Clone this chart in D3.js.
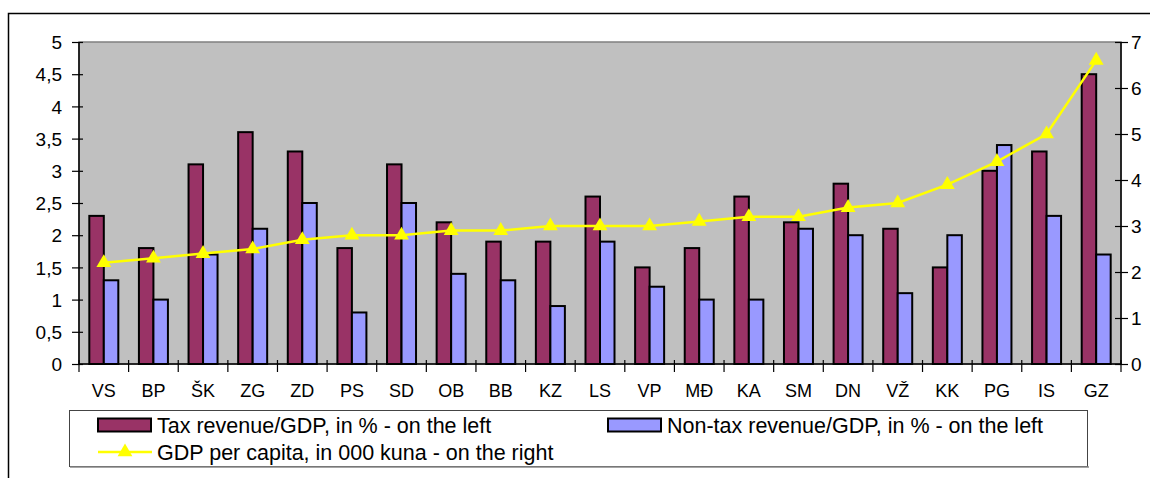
<!DOCTYPE html>
<html>
<head>
<meta charset="utf-8">
<script src="https://cdn.jsdelivr.net/npm/d3@7"></script>
<style>
  body { margin: 0; background: #fff; }
  svg { display: block; font-family: "Liberation Sans", Arial, sans-serif; }
  .axis path { stroke: #000; }
  .axis line { stroke: #000; }
  .axis text { font-size: 18px; fill: #000; }
  .yaxis text { font-size: 19px; }
</style>
</head>
<body>
<div class="holder"></div>
<script>
const w = 1150;
const h = 478;

// data
const categories = ["VS", "BP", "ŠK", "ZG", "ZD", "PS", "SD", "OB", "BB", "KZ", "LS", "VP", "MĐ", "KA", "SM", "DN", "VŽ", "KK", "PG", "IS", "GZ"];
const taxRevenue = [2.3, 1.8, 3.1, 3.6, 3.3, 1.8, 3.1, 2.2, 1.9, 1.9, 2.6, 1.5, 1.8, 2.6, 2.2, 2.8, 2.1, 1.5, 3.0, 3.3, 4.5];
const nonTaxRevenue = [1.3, 1.0, 1.7, 2.1, 2.5, 0.8, 2.5, 1.4, 1.3, 0.9, 1.9, 1.2, 1.0, 1.0, 2.1, 2.0, 1.1, 2.0, 3.4, 2.3, 1.7];
const gdpPerCapita = [2.2, 2.3, 2.4, 2.5, 2.7, 2.8, 2.8, 2.9, 2.9, 3.0, 3.0, 3.0, 3.1, 3.2, 3.2, 3.4, 3.5, 3.9, 4.4, 5.0, 6.6];
const leftTicks = [0, 0.5, 1, 1.5, 2, 2.5, 3, 3.5, 4, 4.5, 5];
const rightTicks = [0, 1, 2, 3, 4, 5, 6, 7];
const seriesNames = ["Tax revenue/GDP, in % - on the left", "Non-tax revenue/GDP, in % - on the left", "GDP per capita, in 000 kuna - on the right"];

const plot = { left: 79, right: 1121, top: 42, bottom: 364 };
const barW = 14.5;
const taxColor = "#993366";
const nonTaxColor = "#9999FF";
const lineColor = "#FFFF00";

const svg = d3.select(".holder")
    .append("svg")
    .attr("width", w)
    .attr("height", h);

// outer chart frame (cropped on right and bottom)
svg.append("rect")
    .attr("x", 8.5).attr("y", 13.5)
    .attr("width", 1300).attr("height", 600)
    .attr("fill", "none")
    .attr("stroke", "#000")
    .attr("stroke-width", 1.5);

// plot area
svg.append("rect")
    .attr("x", plot.left).attr("y", plot.top)
    .attr("width", plot.right - plot.left)
    .attr("height", plot.bottom - plot.top)
    .attr("fill", "#C0C0C0")
    .attr("stroke", "#808080")
    .attr("stroke-width", 1.5);

// scales
const xScale = d3.scaleBand()
    .domain(categories)
    .range([plot.left, plot.right]);

const yLeft = d3.scaleLinear()
    .domain([0, 5])
    .range([plot.bottom, plot.top]);

const yRight = d3.scaleLinear()
    .domain([0, 7])
    .range([plot.bottom, plot.top]);

const center = c => xScale(c) + xScale.bandwidth() / 2;
const fmt = d => String(d).replace(".", ",");

// bars
const rows = categories.map((c, i) => ({ c, tax: taxRevenue[i], nontax: nonTaxRevenue[i], gdp: gdpPerCapita[i] }));

svg.selectAll("rect.tax")
    .data(rows)
    .enter()
    .append("rect")
    .attr("class", "tax")
    .attr("x", d => center(d.c) - barW)
    .attr("y", d => yLeft(d.tax))
    .attr("width", barW)
    .attr("height", d => yLeft(0) - yLeft(d.tax))
    .attr("fill", taxColor)
    .attr("stroke", "#000")
    .attr("stroke-width", 2);

svg.selectAll("rect.nontax")
    .data(rows)
    .enter()
    .append("rect")
    .attr("class", "nontax")
    .attr("x", d => center(d.c))
    .attr("y", d => yLeft(d.nontax))
    .attr("width", barW)
    .attr("height", d => yLeft(0) - yLeft(d.nontax))
    .attr("fill", nonTaxColor)
    .attr("stroke", "#000")
    .attr("stroke-width", 2);

// left axis
const leftAxis = svg.append("g")
    .attr("class", "axis yaxis")
    .attr("transform", `translate(${plot.left},0)`)
    .call(d3.axisLeft(yLeft).tickValues(leftTicks).tickFormat(fmt).tickSize(7).tickPadding(10));
leftAxis.select(".domain").attr("d", `M0,${plot.top}V${plot.bottom}`).attr("stroke-width", 1.5);
leftAxis.selectAll(".tick line").attr("x2", -7).attr("x1", 4).attr("stroke-width", 1.2);
leftAxis.selectAll(".tick text").attr("dy", "0.35em");

// right axis
const rightAxis = svg.append("g")
    .attr("class", "axis yaxis")
    .attr("transform", `translate(${plot.right},0)`)
    .call(d3.axisRight(yRight).tickValues(rightTicks).tickFormat(d3.format("d")).tickSize(7).tickPadding(3));
rightAxis.select(".domain").attr("d", `M0,${plot.top}V${plot.bottom}`).attr("stroke-width", 1.5);
rightAxis.selectAll(".tick line").attr("x1", -6).attr("x2", 7).attr("stroke-width", 1.2);
rightAxis.selectAll(".tick text").attr("dy", "0.35em");

// bottom axis: labels centred, ticks on band boundaries
const bottomAxis = svg.append("g")
    .attr("class", "axis")
    .attr("transform", `translate(0,${plot.bottom})`)
    .call(d3.axisBottom(xScale).tickSize(0).tickPadding(20));
bottomAxis.select(".domain").attr("d", `M${plot.left},0H${plot.right}`).attr("stroke-width", 1.5);
bottomAxis.selectAll(".tick text").attr("dy", "0.71em").attr("y", 20);

const bounds = categories.map(c => xScale(c)).concat([plot.right]);
bottomAxis.selectAll("line.bound")
    .data(bounds)
    .enter()
    .append("line")
    .attr("class", "bound")
    .attr("x1", d => d).attr("x2", d => d)
    .attr("y1", -4).attr("y2", 8)
    .attr("stroke", "#000")
    .attr("stroke-width", 1.2);

// GDP line
const line = d3.line()
    .x(d => center(d.c))
    .y(d => yRight(d.gdp));

svg.append("path")
    .datum(rows)
    .attr("d", line)
    .attr("fill", "none")
    .attr("stroke", lineColor)
    .attr("stroke-width", 2.5);

const tri = d3.symbol().type(d3.symbolTriangle).size(95);
svg.selectAll("path.marker")
    .data(rows)
    .enter()
    .append("path")
    .attr("class", "marker")
    .attr("d", tri)
    .attr("transform", d => `translate(${center(d.c)},${yRight(d.gdp)})`)
    .attr("fill", lineColor);

// legend
const legend = svg.append("g");
legend.append("rect")
    .attr("x", 69.5).attr("y", 410.5)
    .attr("width", 1018).attr("height", 56)
    .attr("fill", "#fff")
    .attr("stroke", "#444")
    .attr("stroke-width", 1);
legend.append("line")
    .attr("x1", 70).attr("x2", 1089)
    .attr("y1", 467).attr("y2", 467)
    .attr("stroke", "#888").attr("stroke-width", 1.5);

const swatches = [
    { x: 98, y: 425, color: taxColor, name: seriesNames[0] },
    { x: 608, y: 425, color: nonTaxColor, name: seriesNames[1] }
];
swatches.forEach(s => {
    legend.append("rect")
        .attr("x", s.x).attr("y", s.y - 6.5)
        .attr("width", 53).attr("height", 13)
        .attr("fill", s.color)
        .attr("stroke", "#000")
        .attr("stroke-width", 2);
    legend.append("text")
        .attr("x", s.x + 59).attr("y", s.y)
        .attr("dy", "0.35em")
        .attr("font-size", "21.5px")
        .text(s.name);
});

legend.append("line")
    .attr("x1", 98).attr("x2", 152)
    .attr("y1", 452).attr("y2", 452)
    .attr("stroke", lineColor)
    .attr("stroke-width", 2.5);
legend.append("path")
    .attr("d", tri)
    .attr("transform", "translate(125,452)")
    .attr("fill", lineColor);
legend.append("text")
    .attr("x", 157).attr("y", 452)
    .attr("dy", "0.35em")
    .attr("font-size", "21.5px")
    .text(seriesNames[2]);
</script>
</body>
</html>
